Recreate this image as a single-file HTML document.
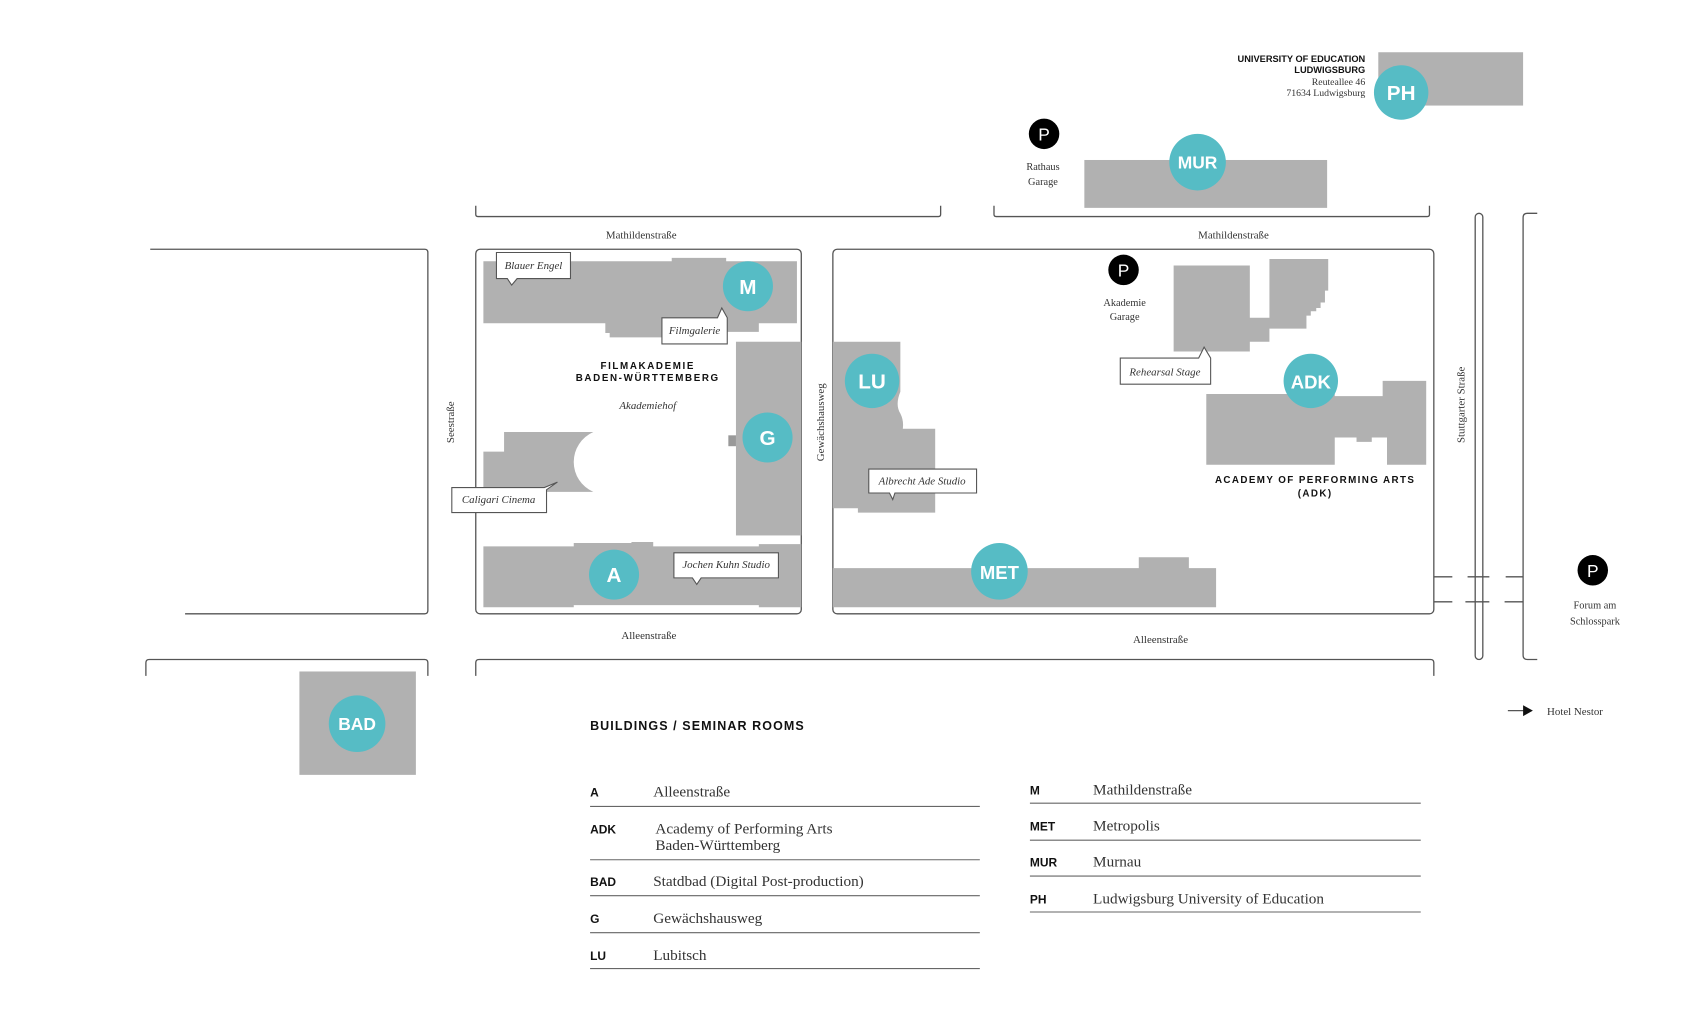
<!DOCTYPE html>
<html><head><meta charset="utf-8"><style>
html,body{margin:0;padding:0;background:#fff;}
svg{display:block;}
.s{font-family:"Liberation Serif",serif;fill:#333;}
.b{font-family:"Liberation Sans",sans-serif;font-weight:bold;fill:#111;}
.c{font-family:"Liberation Sans",sans-serif;font-weight:bold;fill:#fff;text-anchor:middle;}
.i{font-family:"Liberation Serif",serif;font-style:italic;fill:#333;font-size:10px;}
.g{fill:#b1b1b1;}
.t{fill:#56bcc5;}
.ln{stroke:#555;stroke-width:1.2;fill:none;}
.cb{fill:#fff;stroke:#555;stroke-width:1;}
</style></head><body>
<svg width="1706" height="1023" viewBox="0 0 1567 940" preserveAspectRatio="none" xmlns="http://www.w3.org/2000/svg">
<!-- PH -->
<rect class="g" x="1266" y="48" width="133" height="49"/>
<circle class="t" cx="1287" cy="85" r="25"/>
<text class="c" x="1287" y="92" font-size="19">PH</text>
<text class="b" x="1254" y="57" font-size="8.5" text-anchor="end">UNIVERSITY OF EDUCATION</text>
<text class="b" x="1254" y="67" font-size="8.5" text-anchor="end">LUDWIGSBURG</text>
<text class="s" x="1254" y="78" font-size="9" text-anchor="end">Reuteallee 46</text>
<text class="s" x="1254" y="88" font-size="9" text-anchor="end">71634 Ludwigsburg</text>
<!-- MUR -->
<circle cx="959" cy="123" r="14" fill="#000"/><text x="959" y="129" font-family="Liberation Sans" font-size="16" fill="#fff" text-anchor="middle">P</text>
<text class="s" x="958" y="156" font-size="9.5" text-anchor="middle">Rathaus</text>
<text class="s" x="958" y="170" font-size="9.5" text-anchor="middle">Garage</text>
<rect class="g" x="996" y="147" width="223" height="44"/>
<circle class="t" cx="1100" cy="149" r="26"/>
<text class="c" x="1100" y="155" font-size="16">MUR</text>
<!-- top brackets -->
<path class="ln" d="M437 189 V197 Q437 199 439 199 H862 Q864 199 864 197 V189"/>
<path class="ln" d="M913 189 V197 Q913 199 915 199 H1311 Q1313 199 1313 197 V189"/>
<text class="s" x="589" y="219" font-size="10" text-anchor="middle">Mathildenstraße</text>
<text class="s" x="1133" y="219" font-size="10" text-anchor="middle">Mathildenstraße</text>
<!-- left block -->
<path class="ln" d="M138 229 H390 Q393 229 393 232 V561 Q393 564 390 564 H170"/>
<!-- Filmakademie -->
<rect class="ln" x="437" y="229" width="299" height="335" rx="4"/>
<path class="g" d="M444 240 H617 V237 H667 V240 H732 V297 H697 V305 H668 V310 H560 V306 H556 V297 H444 Z"/>
<circle class="t" cx="687" cy="263" r="23"/><text class="c" x="687" y="270" font-size="19">M</text>
<rect class="g" x="676" y="314" width="60" height="178"/>
<rect x="669" y="400" width="7" height="10" fill="#999"/>
<circle class="t" cx="705" cy="402" r="23"/><text class="c" x="705" y="409" font-size="19">G</text>
<path class="g" d="M463 397 H545 A30 30 0 0 0 545 452 H444 V415 H463 Z"/>
<path class="g" d="M444 502 H527 V499 H580 V498 H600 V502 H697 V500 H736 V558 H697 V556 H527 V558 H444 Z"/>
<circle class="t" cx="564" cy="528" r="23"/><text class="c" x="564" y="535" font-size="19">A</text>
<!-- callouts -->
<path class="cb" d="M456 232 H524 V256 H475 L470 262 L466 256 H456 Z"/><text class="i" x="490" y="247" text-anchor="middle">Blauer Engel</text>
<path class="cb" d="M608 292 H659 L663 283 L668 292 V316 H608 Z"/><text class="i" x="638" y="307" text-anchor="middle">Filmgalerie</text>
<path class="cb" d="M415 448 H500 L512 443 L502 450 V471 H415 Z"/><text class="i" x="458" y="462" text-anchor="middle">Caligari Cinema</text>
<path class="cb" d="M619 508 H715 V531 H644 L640 537 L636 531 H619 Z"/><text class="i" x="667" y="522" text-anchor="middle">Jochen Kuhn Studio</text>
<text class="b" x="595" y="339" font-size="9" text-anchor="middle" letter-spacing="1.5">FILMAKADEMIE</text>
<text class="b" x="595" y="350" font-size="9" text-anchor="middle" letter-spacing="1.5">BADEN-WÜRTTEMBERG</text>
<text class="i" x="595" y="376" text-anchor="middle">Akademiehof</text>
<text class="s" font-size="10" transform="translate(417 388) rotate(-90)" text-anchor="middle">Seestraße</text>
<text class="s" font-size="10" transform="translate(757 388) rotate(-90)" text-anchor="middle">Gewächshausweg</text>
<!-- right box -->
<rect class="ln" x="765" y="229" width="552" height="335" rx="4"/>
<path class="g" d="M765 314 H827 V360 Q822 372 827 380 Q832 390 827 402 Q829 396 827 394 H859 V471 H788 V467 H765 Z"/>
<circle class="t" cx="801" cy="350" r="25"/><text class="c" x="801" y="357" font-size="19">LU</text>
<path class="cb" d="M798 431 H897 V453 H822 L820 459 L817 453 H798 Z"/><text class="i" x="847" y="445" text-anchor="middle">Albrecht Ade Studio</text>
<circle cx="1032" cy="248" r="14" fill="#000"/><text x="1032" y="254" font-family="Liberation Sans" font-size="16" fill="#fff" text-anchor="middle">P</text>
<text class="s" x="1033" y="281" font-size="9.5" text-anchor="middle">Akademie</text>
<text class="s" x="1033" y="294" font-size="9.5" text-anchor="middle">Garage</text>
<path class="g" d="M1078 244 H1148 V292 H1166 V238 H1220 V267 H1217 V278 H1213 V283 H1209 V286 H1204 V290 H1200 V302 H1166 V314 H1148 V297 H1166 V362 H1226 V364 H1270 V350 H1310 V427 H1274 V402 H1260 V406 H1246 V402 H1226 V427 H1108 V362 H1166 V303 H1148 V323 H1078 Z"/>
<circle class="t" cx="1204" cy="350" r="25"/><text class="c" x="1204" y="357" font-size="17">ADK</text>
<path class="cb" d="M1029 329 H1101 L1106 319 L1112 329 V353 H1029 Z"/><text class="i" x="1070" y="345" text-anchor="middle">Rehearsal Stage</text>
<text class="b" x="1208" y="444" font-size="9" text-anchor="middle" letter-spacing="1.3">ACADEMY OF PERFORMING ARTS</text>
<text class="b" x="1208" y="456" font-size="9" text-anchor="middle" letter-spacing="1.3">(ADK)</text>
<path class="g" d="M765 522 H1046 V512 H1092 V522 H1117 V558 H765 Z"/>
<circle class="t" cx="918" cy="525" r="26"/><text class="c" x="918" y="532" font-size="17">MET</text>
<!-- right side -->
<text class="s" font-size="10" transform="translate(1345 372) rotate(-90)" text-anchor="middle">Stuttgarter Straße</text>
<rect class="ln" x="1355" y="196" width="7" height="410" rx="3.5"/>
<path class="ln" d="M1412 196 H1403 Q1399 196 1399 200 V602 Q1399 606 1403 606 H1412"/>
<path class="ln" d="M1317 530 H1334 M1348 530 H1368 M1383 530 H1399 M1317 553 H1334 M1346 553 H1368 M1382 553 H1399"/>
<circle cx="1463" cy="524" r="14" fill="#000"/><text x="1463" y="530" font-family="Liberation Sans" font-size="16" fill="#fff" text-anchor="middle">P</text>
<text class="s" x="1465" y="559" font-size="9.5" text-anchor="middle">Forum am</text>
<text class="s" x="1465" y="574" font-size="9.5" text-anchor="middle">Schlosspark</text>
<text class="s" x="596" y="587" font-size="10" text-anchor="middle">Alleenstraße</text>
<text class="s" x="1066" y="591" font-size="10" text-anchor="middle">Alleenstraße</text>
<path class="ln" d="M134 621 V609 Q134 606 137 606 H390 Q393 606 393 609 V621"/>
<path class="ln" d="M437 621 V609 Q437 606 440 606 H1314 Q1317 606 1317 609 V621"/>
<rect class="g" x="275" y="617" width="107" height="95"/>
<circle class="t" cx="328" cy="665" r="26"/><text class="c" x="328" y="671" font-size="16">BAD</text>
<path d="M1385 653 H1400" stroke="#555" stroke-width="1.2"/><path d="M1399 648 L1408 653 L1399 658 Z" fill="#111"/>
<text class="s" x="1421" y="657" font-size="10">Hotel Nestor</text>
<!-- legend -->
<text class="b" x="542" y="671" font-size="11.5" letter-spacing="1">BUILDINGS / SEMINAR ROOMS</text>
<g font-size="14">
<text class="b" x="542" y="732" font-size="11">A</text><text class="s" x="600" y="732" font-size="14">Alleenstraße</text>
<text class="b" x="542" y="766" font-size="11">ADK</text><text class="s" x="602" y="766" font-size="14">Academy of Performing Arts</text><text class="s" x="602" y="781" font-size="14">Baden-Württemberg</text>
<text class="b" x="542" y="814" font-size="11">BAD</text><text class="s" x="600" y="814" font-size="14">Statdbad (Digital Post-production)</text>
<text class="b" x="542" y="848" font-size="11">G</text><text class="s" x="600" y="848" font-size="14">Gewächshausweg</text>
<text class="b" x="542" y="882" font-size="11">LU</text><text class="s" x="600" y="882" font-size="14">Lubitsch</text>
<text class="b" x="946" y="730" font-size="11">M</text><text class="s" x="1004" y="730" font-size="14">Mathildenstraße</text>
<text class="b" x="946" y="763" font-size="11">MET</text><text class="s" x="1004" y="763" font-size="14">Metropolis</text>
<text class="b" x="946" y="796" font-size="11">MUR</text><text class="s" x="1004" y="796" font-size="14">Murnau</text>
<text class="b" x="946" y="830" font-size="11">PH</text><text class="s" x="1004" y="830" font-size="14">Ludwigsburg University of Education</text>
</g>
<path d="M542 741 H900 M542 790 H900 M542 823 H900 M542 857 H900 M542 890 H900 M946 738 H1305 M946 772 H1305 M946 805 H1305 M946 838 H1305" stroke="#666" stroke-width="1"/>
</svg>
</body></html>
